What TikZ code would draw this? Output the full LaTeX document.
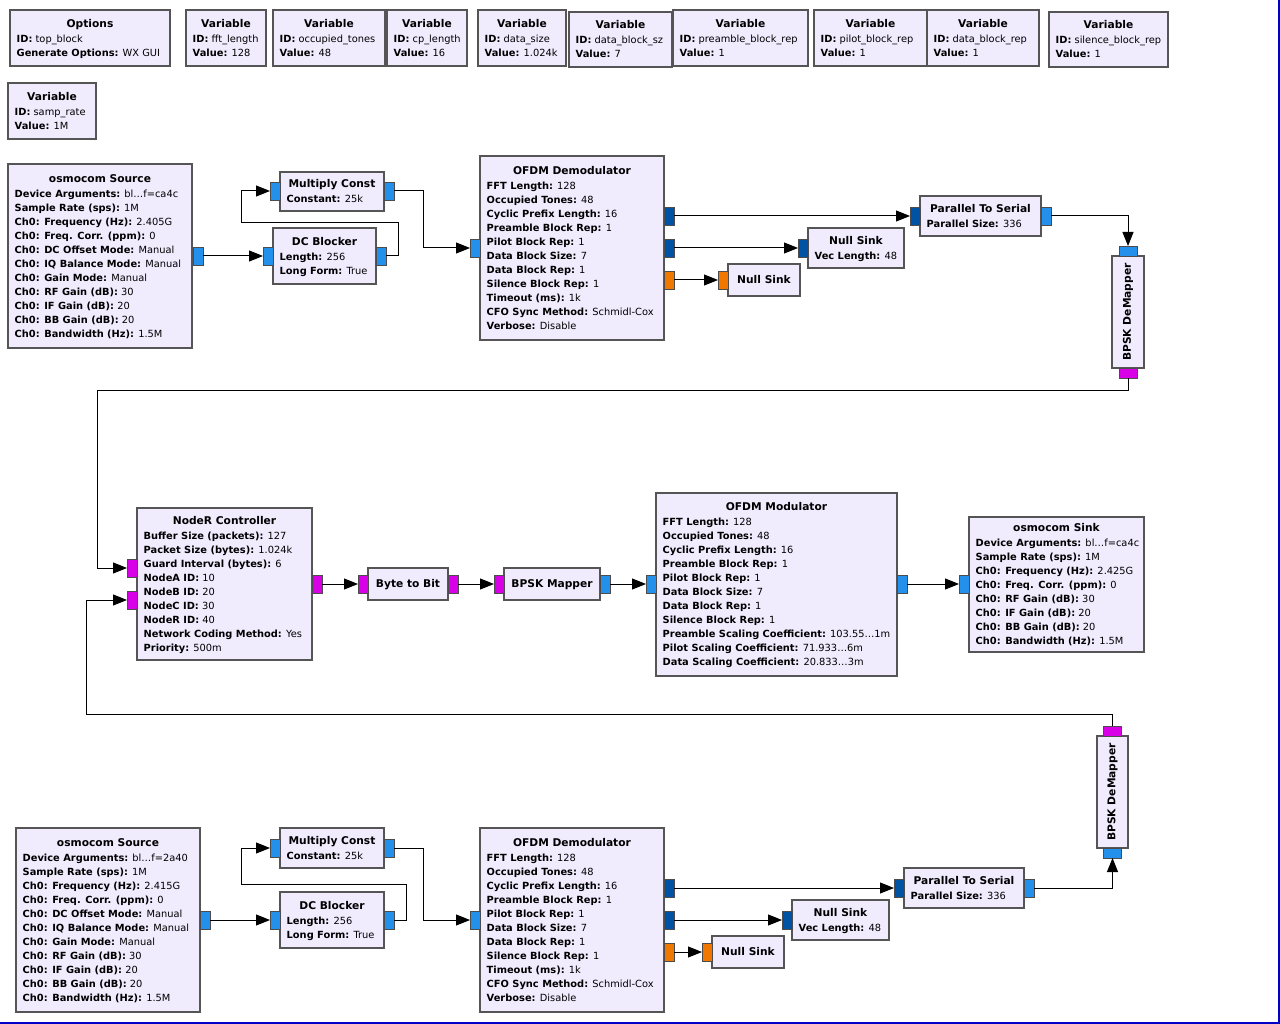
\documentclass[tikz,border=0pt]{standalone}
\usepackage{fontspec}
\setmainfont{DejaVu Sans}
\usetikzlibrary{arrows.meta}

\definecolor{blockfill}{RGB}{240,236,254}
\definecolor{blockedge}{RGB}{85,85,85}
\definecolor{pcomplex}{RGB}{35,145,235}
\definecolor{pvector}{RGB}{0,82,165}
\definecolor{pfloat}{RGB}{240,120,0}
\definecolor{pbyte}{RGB}{215,0,230}
\definecolor{canvasedge}{RGB}{0,0,200}

% bold key, plain value
\newcommand\kv[2]{\textbf{#1:} #2}
% block: name, left, top, right, bottom, title line y, title, parameter lines
\newcommand\gblock[8]{%
  \node[blk,minimum width=#4-#2,minimum height=#5-#3] (#1) at (#2,#3) {};
  \node[ttl] at ({(#2+#4)/2},#6+4.6) {#7};
  \node[prm] at (#2+6.5,#6+19.4) {\begin{tabular}[t]{@{}l@{}}#8\end{tabular}};
}
% horizontal port: name, colour, centre x, centre y
\newcommand\hport[4]{\node[port,fill=#2,minimum width=10,minimum height=18] (#1) at (#3,#4) {};}
% vertical port: name, colour, centre x, centre y
\newcommand\vport[4]{\node[port,fill=#2,minimum width=18,minimum height=10] (#1) at (#3,#4) {};}

\begin{document}
\begin{tikzpicture}[x=1pt,y=-1pt,
  blk/.style={draw=blockedge,fill=blockfill,line width=1.1,anchor=north west,inner sep=0,outer sep=0},
  ttl/.style={anchor=base,inner sep=0,font=\fontsize{10.67}{14}\selectfont\bfseries},
  prm/.style={anchor=base west,inner sep=0,font=\fontsize{9.85}{14}\selectfont},
  port/.style={draw=black!70,line width=0.6,inner sep=0,outer sep=0},
  wire/.style={draw=black,line width=1,-{Triangle[length=14pt,width=11pt]}},
  plain/.style={draw=black,line width=1}]

\useasboundingbox (0,0) rectangle (1280,1024);
\fill[white] (0,0) rectangle (1280,1024);
\draw[canvasedge,line width=2] (0,1023) -- (1279,1023) -- (1279,0);

% ---------- variables ----------
\gblock{opts}{10}{10}{170}{66}{23}{Options}{\kv{ID}{top\_block}\\\kv{Generate Options}{WX GUI}}
\gblock{vfft}{186}{10}{266}{66}{23}{Variable}{\kv{ID}{fft\_length}\\\kv{Value}{128}}
\gblock{vocc}{273}{10}{385}{66}{23}{Variable}{\kv{ID}{occupied\_tones}\\\kv{Value}{48}}
\gblock{vcp}{387}{10}{467}{66}{23}{Variable}{\kv{ID}{cp\_length}\\\kv{Value}{16}}
\gblock{vdsz}{478}{10}{566}{66}{23}{Variable}{\kv{ID}{data\_size}\\\kv{Value}{1.024k}}
\gblock{vdbs}{569}{12}{672}{67}{24}{Variable}{\kv{ID}{data\_block\_sz}\\\kv{Value}{7}}
\gblock{vpre}{673}{10}{808}{66}{23}{Variable}{\kv{ID}{preamble\_block\_rep}\\\kv{Value}{1}}
\gblock{vpil}{814}{10}{927}{66}{23}{Variable}{\kv{ID}{pilot\_block\_rep}\\\kv{Value}{1}}
\gblock{vdbr}{927}{10}{1039}{66}{23}{Variable}{\kv{ID}{data\_block\_rep}\\\kv{Value}{1}}
\gblock{vsil}{1049}{12}{1168}{67}{24}{Variable}{\kv{ID}{silence\_block\_rep}\\\kv{Value}{1}}
\gblock{vsr}{8}{83}{96}{139}{96}{Variable}{\kv{ID}{samp\_rate}\\\kv{Value}{1M}}

% ---------- receive chain A ----------
\gblock{srcA}{8}{164}{192}{348}{178}{osmocom Source}{\kv{Device Arguments}{bl…f=ca4c}\\\kv{Sample Rate (sps)}{1M}\\\kv{Ch0: Frequency (Hz)}{2.405G}\\\kv{Ch0: Freq. Corr. (ppm)}{0}\\\kv{Ch0: DC Offset Mode}{Manual}\\\kv{Ch0: IQ Balance Mode}{Manual}\\\kv{Ch0: Gain Mode}{Manual}\\\kv{Ch0: RF Gain (dB)}{30}\\\kv{Ch0: IF Gain (dB)}{20}\\\kv{Ch0: BB Gain (dB)}{20}\\\kv{Ch0: Bandwidth (Hz)}{1.5M}}
\gblock{mcA}{280}{172}{384}{211}{183}{Multiply Const}{\kv{Constant}{25k}}
\gblock{dcA}{273}{228}{376}{284}{241}{DC Blocker}{\kv{Length}{256}\\\kv{Long Form}{True}}
\gblock{demA}{480}{156}{664}{340}{170}{OFDM Demodulator}{\kv{FFT Length}{128}\\\kv{Occupied Tones}{48}\\\kv{Cyclic Prefix Length}{16}\\\kv{Preamble Block Rep}{1}\\\kv{Pilot Block Rep}{1}\\\kv{Data Block Size}{7}\\\kv{Data Block Rep}{1}\\\kv{Silence Block Rep}{1}\\\kv{Timeout (ms)}{1k}\\\kv{CFO Sync Method}{Schmidl-Cox}\\\kv{Verbose}{Disable}}
\gblock{nsA}{728}{264}{800}{296}{279}{Null Sink}{}
\gblock{nsvA}{808}{228}{904}{268}{240}{Null Sink}{\kv{Vec Length}{48}}
\gblock{ptsA}{920}{196}{1041}{236}{208}{Parallel To Serial}{\kv{Parallel Size}{336}}
\node[blk,minimum width=32,minimum height=112] (dmpA) at (1112,256) {};
\node[ttl,anchor=center,rotate=90] at (dmpA.center) {BPSK DeMapper};

\hport{srcAo}{pcomplex}{198}{256}
\hport{dcAi}{pcomplex}{268}{256}
\hport{dcAo}{pcomplex}{381}{256}
\hport{mcAi}{pcomplex}{275}{191}
\hport{mcAo}{pcomplex}{389}{191}
\hport{demAi}{pcomplex}{475}{248}
\hport{demAo1}{pvector}{669}{216}
\hport{demAo2}{pvector}{669}{248}
\hport{demAo3}{pfloat}{669}{280}
\hport{nsAi}{pfloat}{723}{280}
\hport{nsvAi}{pvector}{803}{248}
\hport{ptsAi}{pvector}{915}{216}
\hport{ptsAo}{pcomplex}{1046}{216}
\vport{dmpAi}{pcomplex}{1128}{251}
\vport{dmpAo}{pbyte}{1128}{373}

% ---------- relay controller and transmit chain ----------
\gblock{nr}{137}{508}{312}{660}{520}{NodeR Controller}{\kv{Buffer Size (packets)}{127}\\\kv{Packet Size (bytes)}{1.024k}\\\kv{Guard Interval (bytes)}{6}\\\kv{NodeA ID}{10}\\\kv{NodeB ID}{20}\\\kv{NodeC ID}{30}\\\kv{NodeR ID}{40}\\\kv{Network Coding Method}{Yes}\\\kv{Priority}{500m}}
\gblock{b2b}{368}{568}{448}{600}{583}{Byte to Bit}{}
\gblock{bm}{504}{568}{600}{600}{583}{BPSK Mapper}{}
\gblock{mod}{656}{493}{897}{676}{506}{OFDM Modulator}{\kv{FFT Length}{128}\\\kv{Occupied Tones}{48}\\\kv{Cyclic Prefix Length}{16}\\\kv{Preamble Block Rep}{1}\\\kv{Pilot Block Rep}{1}\\\kv{Data Block Size}{7}\\\kv{Data Block Rep}{1}\\\kv{Silence Block Rep}{1}\\\kv{Preamble Scaling Coefficient}{103.55…1m}\\\kv{Pilot Scaling Coefficient}{71.933…6m}\\\kv{Data Scaling Coefficient}{20.833…3m}}
\gblock{snk}{969}{517}{1144}{652}{527}{osmocom Sink}{\kv{Device Arguments}{bl…f=ca4c}\\\kv{Sample Rate (sps)}{1M}\\\kv{Ch0: Frequency (Hz)}{2.425G}\\\kv{Ch0: Freq. Corr. (ppm)}{0}\\\kv{Ch0: RF Gain (dB)}{30}\\\kv{Ch0: IF Gain (dB)}{20}\\\kv{Ch0: BB Gain (dB)}{20}\\\kv{Ch0: Bandwidth (Hz)}{1.5M}}

\hport{nri1}{pbyte}{132}{568}
\hport{nri2}{pbyte}{132}{600}
\hport{nro}{pbyte}{317}{584}
\hport{b2bi}{pbyte}{363}{584}
\hport{b2bo}{pbyte}{453}{584}
\hport{bmi}{pbyte}{499}{584}
\hport{bmo}{pcomplex}{605}{584}
\hport{modi}{pcomplex}{651}{584}
\hport{modo}{pcomplex}{902}{584}
\hport{snki}{pcomplex}{964}{584}

% ---------- receive chain B ----------
\gblock{srcB}{16}{828}{200}{1012}{842}{osmocom Source}{\kv{Device Arguments}{bl…f=2a40}\\\kv{Sample Rate (sps)}{1M}\\\kv{Ch0: Frequency (Hz)}{2.415G}\\\kv{Ch0: Freq. Corr. (ppm)}{0}\\\kv{Ch0: DC Offset Mode}{Manual}\\\kv{Ch0: IQ Balance Mode}{Manual}\\\kv{Ch0: Gain Mode}{Manual}\\\kv{Ch0: RF Gain (dB)}{30}\\\kv{Ch0: IF Gain (dB)}{20}\\\kv{Ch0: BB Gain (dB)}{20}\\\kv{Ch0: Bandwidth (Hz)}{1.5M}}
\gblock{mcB}{280}{828}{384}{868}{840}{Multiply Const}{\kv{Constant}{25k}}
\gblock{dcB}{280}{892}{384}{948}{905}{DC Blocker}{\kv{Length}{256}\\\kv{Long Form}{True}}
\gblock{demB}{480}{828}{664}{1012}{842}{OFDM Demodulator}{\kv{FFT Length}{128}\\\kv{Occupied Tones}{48}\\\kv{Cyclic Prefix Length}{16}\\\kv{Preamble Block Rep}{1}\\\kv{Pilot Block Rep}{1}\\\kv{Data Block Size}{7}\\\kv{Data Block Rep}{1}\\\kv{Silence Block Rep}{1}\\\kv{Timeout (ms)}{1k}\\\kv{CFO Sync Method}{Schmidl-Cox}\\\kv{Verbose}{Disable}}
\gblock{nsB}{712}{936}{784}{968}{951}{Null Sink}{}
\gblock{nsvB}{792}{900}{889}{940}{912}{Null Sink}{\kv{Vec Length}{48}}
\gblock{ptsB}{904}{868}{1024}{908}{880}{Parallel To Serial}{\kv{Parallel Size}{336}}
\node[blk,minimum width=31,minimum height=112] (dmpB) at (1097,736) {};
\node[ttl,anchor=center,rotate=90] at (dmpB.center) {BPSK DeMapper};

\hport{srcBo}{pcomplex}{205}{920}
\hport{dcBi}{pcomplex}{275}{920}
\hport{dcBo}{pcomplex}{389}{920}
\hport{mcBi}{pcomplex}{275}{848}
\hport{mcBo}{pcomplex}{389}{848}
\hport{demBi}{pcomplex}{475}{920}
\hport{demBo1}{pvector}{669}{888}
\hport{demBo2}{pvector}{669}{920}
\hport{demBo3}{pfloat}{669}{952}
\hport{nsBi}{pfloat}{707}{952}
\hport{nsvBi}{pvector}{787}{920}
\hport{ptsBi}{pvector}{899}{888}
\hport{ptsBo}{pcomplex}{1029}{888}
\vport{dmpBi}{pcomplex}{1112.5}{853}
\vport{dmpBo}{pbyte}{1112.5}{731}

% ---------- connections, chain A ----------
\draw[wire] (srcAo.east) -- (dcAi.west);
\draw[wire] (dcAo.east) -- (398,256) -- (398,223) -- (241,223) |- (mcAi.west);
\draw[wire] (mcAo.east) -- (423,191) |- (demAi.west);
\draw[wire] (demAo1.east) -- (ptsAi.west);
\draw[wire] (demAo2.east) -- (nsvAi.west);
\draw[wire] (demAo3.east) -- (nsAi.west);
\draw[wire] (ptsAo.east) -| (dmpAi.north);
\draw[wire] (dmpAo.south) -- (1128,390) -- (97,390) |- (nri1.west);

% ---------- connections, transmit chain ----------
\draw[wire] (nro.east) -- (b2bi.west);
\draw[wire] (b2bo.east) -- (bmi.west);
\draw[wire] (bmo.east) -- (modi.west);
\draw[wire] (modo.east) -- (snki.west);

% ---------- connections, chain B ----------
\draw[wire] (srcBo.east) -- (dcBi.west);
\draw[wire] (dcBo.east) -- (406,920) -- (406,884) -- (241,884) |- (mcBi.west);
\draw[wire] (mcBo.east) -- (423,848) |- (demBi.west);
\draw[wire] (demBo1.east) -- (ptsBi.west);
\draw[wire] (demBo2.east) -- (nsvBi.west);
\draw[wire] (demBo3.east) -- (nsBi.west);
\draw[wire] (ptsBo.east) -| (dmpBi.south);
\draw[wire] (dmpBo.north) -- (1112.5,714) -- (86,714) |- (nri2.west);

\end{tikzpicture}
\end{document}
